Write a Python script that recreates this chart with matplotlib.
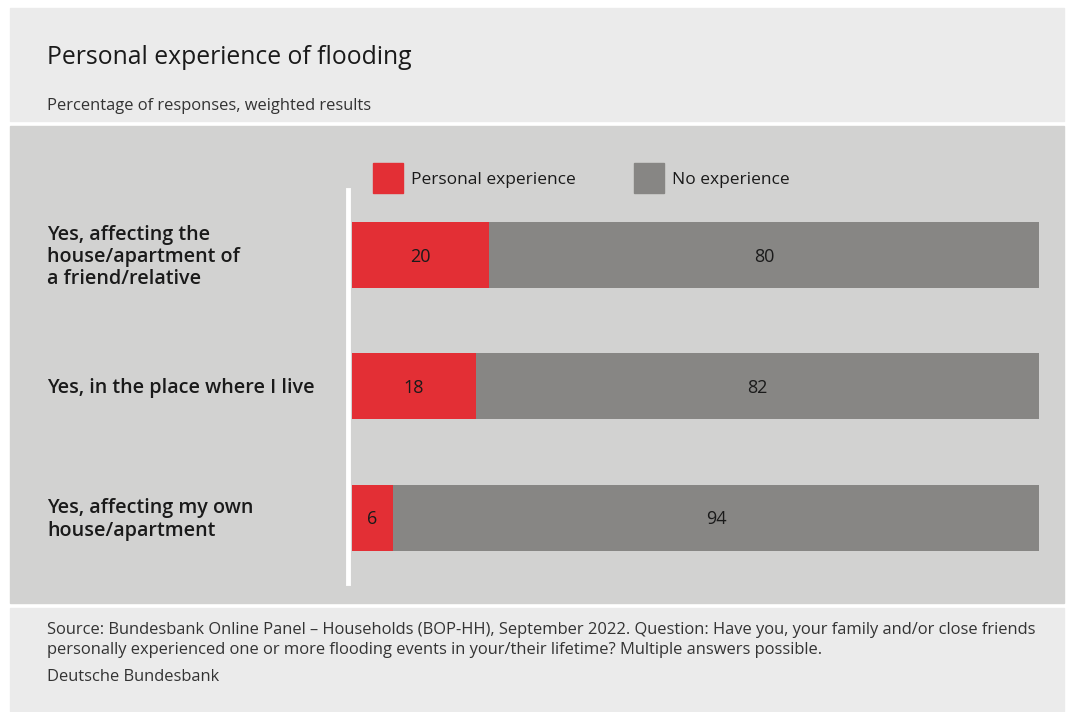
import matplotlib
matplotlib.use('Agg')
import matplotlib.pyplot as plt
from matplotlib.patches import Rectangle
import numpy as np

plt.rcParams['font.family'] = ['Open Sans', 'DejaVu Sans']

categories = ['Yes, affecting the\nhouse/apartment of\na friend/relative',
              'Yes, in the place where I live',
              'Yes, affecting my own\nhouse/apartment']
personal = [20, 18, 6]
no_exp = [80, 82, 94]
series_names = ['Personal experience', 'No experience']
title = 'Personal experience of flooding'
subtitle = 'Percentage of responses, weighted results'
source = ('Source: Bundesbank Online Panel \u2013 Households (BOP-HH), September 2022. Question: Have you, your family and/or close friends\n'
          'personally experienced one or more flooding events in your/their lifetime? Multiple answers possible.')
credit = 'Deutsche Bundesbank'

red = '#e32f35'
grey = '#878684'
light = '#ebebeb'
mid = '#d2d2d1'
txt = '#1a1a1a'

W, H = 1066, 712
fig = plt.figure(figsize=(W / 100, H / 100), dpi=100, facecolor='white')

def fx(px):
    return px / W

def fy(py):
    return 1 - py / H

# background panels
for top_px, bot_px, col in [(8, 121, light), (126, 603, mid), (608, 711, light)]:
    fig.patches.append(Rectangle((fx(10), fy(bot_px)), fx(1054), (bot_px - top_px) / H,
                                 transform=fig.transFigure, color=col, zorder=-2))

fig.text(fx(47), fy(58), title, fontsize=17.8, color=txt, va='center', ha='left')
fig.text(fx(47), fy(106), subtitle, fontsize=11.9, color='#333333', va='center', ha='left')

# bars
ax = fig.add_axes([fx(352), fy(603), (1039 - 352) / W, 477 / H], zorder=1)
ax.set_facecolor('none')
y = np.arange(len(categories))
h = 66 / 131.25
ax.barh(y, personal, height=h, color=red, label=series_names[0])
ax.barh(y, no_exp, left=personal, height=h, color=grey, label=series_names[1])
for i in range(len(categories)):
    ax.text(personal[i] / 2, y[i] + 0.015, str(personal[i]), ha='center', va='center', fontsize=13, color=txt)
    ax.text(personal[i] + no_exp[i] / 2, y[i] + 0.015, str(no_exp[i]), ha='center', va='center', fontsize=13, color=txt)
top = -129 / 131.25
bottom = 2 + (603 - 517.5) / 131.25
ax.set_ylim(bottom, top)
ax.set_xlim(0, 100)
ax.axis('off')

# category labels
for i, c in enumerate(categories):
    yp = ax.transData.transform((0, y[i]))[1] - 2
    fig.text(fx(47), yp / H, c, fontsize=14.2, fontweight='semibold', color=txt,
             va='center', ha='left', linespacing=1.14)

# white axis line
fig.add_artist(plt.Line2D([fx(348), fx(348)], [fy(190), fy(583)], color='white', lw=3.5, zorder=2))

# legend
for xs, name, col in [(373, series_names[0], red), (634, series_names[1], grey)]:
    fig.patches.append(Rectangle((fx(xs), fy(193)), 30 / W, 30 / H, transform=fig.transFigure, color=col))
    fig.text(fx(xs + 38), fy(180), name, fontsize=12.5, color=txt, va='center', ha='left')

fig.text(fx(47), fy(640), source, fontsize=11.9, color='#333333', va='center', ha='left', linespacing=1.38)
fig.text(fx(47), fy(677), credit, fontsize=11.9, color='#333333', va='center', ha='left')

fig.savefig('out.png', dpi=100, facecolor='white')
